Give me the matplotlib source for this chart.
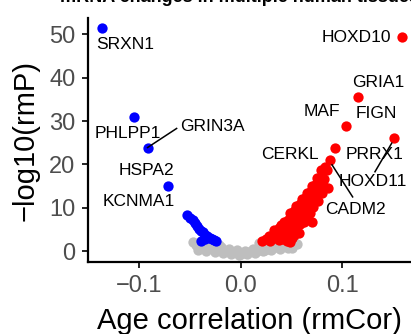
import matplotlib
matplotlib.use("Agg")
import matplotlib.pyplot as plt

plt.rcParams['font.family'] = ['Liberation Sans', 'DejaVu Sans']

# non-significant genes
gray_x = [-0.047, -0.044, -0.040, -0.036, -0.032, -0.028, -0.024, -0.020, -0.016, -0.012,
          -0.008, -0.004, 0.0, 0.004, 0.008, 0.012, 0.016, 0.020, 0.024, 0.028,
          0.032, 0.036, 0.040, 0.044, 0.048, 0.052, -0.042, -0.034, -0.026, -0.018,
          -0.010, -0.002, 0.006, 0.014, 0.022, 0.030, 0.038, 0.046, -0.022, 0.018,
          0.042, 0.050, -0.038, -0.030, 0.034, 0.055]
gray_y = [2.0, 1.4, 1.0, 1.6, 0.6, 1.2, 0.4, 0.9, 0.0, 0.5,
          -0.2, 0.2, -0.6, 0.1, -0.3, 0.4, 0.0, 0.7, 0.3, 1.0,
          0.6, 1.3, 0.9, 1.6, 1.2, 2.0, 0.3, -0.1, -0.2, -0.4,
          -0.6, -0.8, -0.7, -0.4, -0.1, 0.2, 0.5, 0.7, 1.5, 1.8,
          2.4, 0.6, 2.1, 1.8, 2.0, 1.7]

# down with age
blue_x = [-0.137, -0.105, -0.092, -0.072, -0.053, -0.050, -0.047, -0.045, -0.043, -0.041,
          -0.039, -0.037, -0.035, -0.033, -0.031, -0.029, -0.027, -0.025, -0.039, -0.035]
blue_y = [51.5, 31.0, 23.9, 15.1, 8.4, 7.6, 7.1, 6.4, 5.8, 5.2,
          4.7, 4.3, 3.8, 3.4, 3.1, 2.8, 2.5, 2.4, 2.4, 2.7]

# up with age
red_x = [0.021, 0.025, 0.029, 0.033, 0.037, 0.041, 0.045, 0.048,
         0.028, 0.032, 0.036, 0.040, 0.044, 0.050,
         0.033, 0.037, 0.041, 0.045, 0.049, 0.053, 0.057,
         0.042, 0.046, 0.050, 0.054, 0.058, 0.062,
         0.048, 0.052, 0.056, 0.060, 0.064, 0.068,
         0.054, 0.058, 0.062, 0.066, 0.070,
         0.060, 0.064, 0.068, 0.072, 0.076,
         0.065, 0.069, 0.073, 0.077, 0.080,
         0.070, 0.074, 0.078, 0.081,
         0.075, 0.079, 0.082,
         0.079, 0.083, 0.085,
         0.0877, 0.093, 0.0857, 0.0713, 0.0697,
         0.1034, 0.1156, 0.151, 0.159,
         0.035, 0.047, 0.055, 0.061, 0.067, 0.073, 0.039, 0.052]
red_y = [2.3, 2.7, 2.4, 2.9, 2.5, 2.8, 2.4, 2.2,
         3.4, 3.8, 3.3, 3.6, 3.2, 3.0,
         4.8, 5.3, 4.7, 5.0, 4.4, 4.6, 4.2,
         6.8, 7.2, 6.5, 7.0, 6.3, 6.6,
         8.8, 9.2, 8.5, 9.0, 8.4, 8.7,
         10.3, 10.8, 10.0, 10.6, 10.1,
         12.0, 12.4, 11.7, 12.2, 11.6,
         13.5, 13.9, 13.2, 13.7, 13.4,
         15.0, 15.4, 14.8, 15.2,
         16.8, 17.2, 16.6,
         18.8, 19.3, 18.6,
         21.0, 23.9, 14.6, 10.1, 6.8,
         28.9, 35.5, 26.2, 49.5,
         4.1, 5.9, 7.8, 9.7, 11.2, 12.9, 6.0, 3.7]

# gene labels (text position)
genes = ["SRXN1", "PHLPP1", "GRIN3A", "HSPA2", "KCNMA1", "HOXD10", "GRIA1",
         "MAF", "FIGN", "CERKL", "PRRX1", "HOXD11", "CADM2"]
label_x = [-0.1143, -0.111, -0.028, -0.093, -0.1005, 0.1133, 0.1353,
           0.0795, 0.1338, 0.048, 0.132, 0.130, 0.1131]
label_y = [47.6, 27.2, 28.75, 18.5, 11.4, 49.2, 38.8,
           32.3, 31.7, 22.2, 22.35, 16.0, 9.6]

# repel segments: (x0, y0, x1, y1)
segments = [(-0.092, 23.9, -0.0634, 28.3),
            (0.1485, 24.9, 0.132, 18.3),
            (0.0897, 19.9, 0.110, 12.5)]

fig = plt.figure(figsize=(4.11, 3.34), dpi=100)
ax = fig.add_axes([88 / 411, 71.7 / 334, 1 - 88 / 411, 244.3 / 334])

ax.scatter(gray_x, gray_y, s=55, color="#bebebe", linewidths=0, zorder=2)
ax.scatter(red_x, red_y, s=55, color="#ff0000", linewidths=0, zorder=3)
ax.scatter(blue_x, blue_y, s=55, color="#0000ff", linewidths=0, zorder=3)

for x0, y0, x1, y1 in segments:
    ax.plot([x0, x1], [y0, y1], color="black", lw=1.1, zorder=4)

for g, lx, ly in zip(genes, label_x, label_y):
    ax.text(lx, ly, g, fontsize=12.5, ha="center", va="center", zorder=5)

ax.set_xlim(-0.1507, 0.1675)
ax.set_ylim(-2.6, 53.8)
ax.set_xticks([-0.1, 0.0, 0.1])
ax.set_xticklabels(["\u22120.1", "0.0", "0.1"])
ax.set_yticks([0, 10, 20, 30, 40, 50])

for side in ["top", "right"]:
    ax.spines[side].set_visible(False)
for side in ["left", "bottom"]:
    ax.spines[side].set_linewidth(1.6)
ax.tick_params(length=4, width=1.2, labelsize=17, labelcolor="#4d4d4d", pad=5)

ax.set_xlabel("Age correlation (rmCor)", fontsize=21, labelpad=7)
ax.set_ylabel("\u2212log10(rmP)", fontsize=21, labelpad=7)

# title is cut off at the top edge, as in the source image
fig.text(60 / 411, 1 - 2 / 334, "mRNA changes in multiple human tissues",
         fontsize=13, fontweight="bold", ha="left", va="baseline")

fig.savefig("out.png", dpi=100)
